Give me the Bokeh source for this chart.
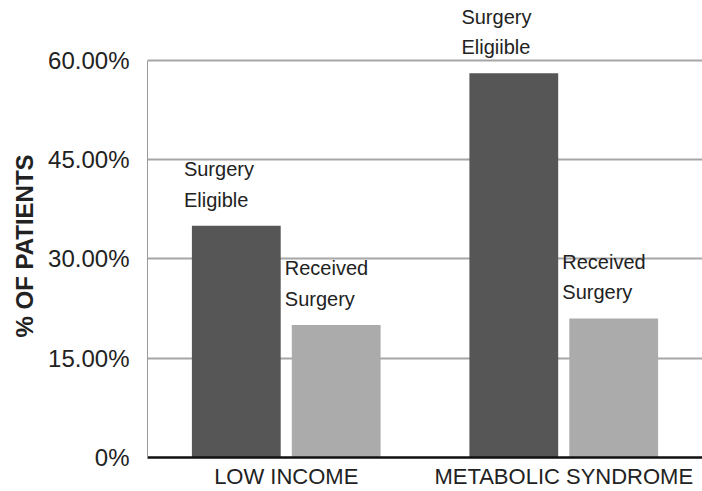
from bokeh.plotting import figure
from bokeh.models import FactorRange, Range1d, FixedTicker, ColumnDataSource, Title
from bokeh.transform import dodge
from bokeh.core.properties import value
from bokeh.embed import file_html
from bokeh.resources import INLINE

categories = ["LOW INCOME", "METABOLIC SYNDROME"]
eligible = [35, 58]
received = [20, 21]
eligible_labels = ["Surgery\nEligible", "Surgery\nEligiible"]
received_labels = ["Received\nSurgery", "Received\nSurgery"]
y_ticks = [0, 15, 30, 45, 60]
y_tick_labels = ["0%", "15.00%", "30.00%", "45.00%", "60.00%"]
y_title = "% OF PATIENTS"

src = ColumnDataSource(dict(cat=categories, elig=eligible, recv=received,
                            elab=eligible_labels, rlab=received_labels))

FONT = "Liberation Sans"

p = figure(x_range=FactorRange(*categories, range_padding=0), y_range=Range1d(0, 69),
           width=702, height=491, output_backend="svg", toolbar_location=None,
           min_border_left=147, min_border_right=0, min_border_top=0, min_border_bottom=31)
p.outline_line_color = None
p.background_fill_color = "white"

BW = 0.32
OFF = 0.18
p.vbar(x=dodge("cat", -OFF, range=p.x_range), top="elig", width=BW, source=src,
       fill_color="#565656", line_color=None)
p.vbar(x=dodge("cat", OFF, range=p.x_range), top="recv", width=BW, source=src,
       fill_color="#ababab", line_color=None)

p.text(x=dodge("cat", -OFF - BW / 2, range=p.x_range), y="elig", text="elab", source=src,
       x_offset=-8, y_offset=-15, text_align="left", text_baseline="bottom",
       text_font=value(FONT), text_font_size="20px", text_color="#222222",
       text_line_height=1.4)
p.text(x=dodge("cat", OFF - BW / 2, range=p.x_range), y="recv", text="rlab", source=src,
       x_offset=-7, y_offset=-15, text_align="left", text_baseline="bottom",
       text_font=value(FONT), text_font_size="20px", text_color="#222222",
       text_line_height=1.4)

# y axis
ya = p.yaxis[0]
ya.ticker = FixedTicker(ticks=y_ticks)
ya.major_label_overrides = {t: l for t, l in zip(y_ticks, y_tick_labels)}
ya.bounds = (0, 60)
ya.axis_line_color = "#999999"
ya.axis_line_width = 1
ya.major_tick_line_color = None
ya.minor_tick_line_color = None
ya.major_label_text_font = FONT
ya.major_label_text_font_size = "24px"
ya.major_label_text_color = "#222222"
ya.major_label_standoff = 12

p.add_layout(Title(text=y_title, align="left", offset=120, standoff=16,
                   text_font=FONT, text_font_style="bold", text_font_size="24px",
                   text_color="#222222"), "left")

# x axis
xa = p.xaxis[0]
xa.axis_line_color = "#111111"
xa.axis_line_width = 2.5
xa.major_tick_line_color = None
xa.minor_tick_line_color = None
xa.major_label_text_font = FONT
xa.major_label_text_font_size = "22px"
xa.major_label_text_color = "#222222"
xa.major_label_standoff = 0

p.xgrid.grid_line_color = None
p.ygrid.grid_line_color = "#a6a6a6"
p.ygrid.grid_line_width = 2
p.ygrid.bounds = (15, 60)

open("out.html", "w").write(file_html(p, INLINE))
